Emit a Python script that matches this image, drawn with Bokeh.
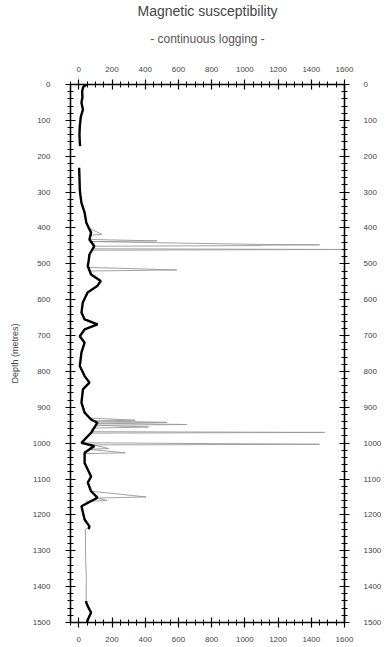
import math
from bokeh.plotting import figure
from bokeh.models import Range1d, LinearAxis, Title, SingleIntervalTicker
from bokeh.embed import file_html
from bokeh.resources import INLINE

NaN = float("nan")

# smoothed log (thick black)
smooth_depth = [0, 5, 9, 20, 35, 51, 70, 90, 116, 140, 162, 172, NaN,
                232, 260, 293, 310, 330, 357, 385, 400, 413, 432, 451, 474,
                490, 506, 530, 548, 562, 580, 608, 636, 655, 669, 683, 702,
                720, 747, 785, 813, 831, 850, 887, 915, 934, 943, 971, 999,
                1008, 1027, 1055, 1093, 1110, 1134, 1152, 1176, 1213, 1232,
                1240, NaN, 1440, 1445, 1460, 1472, 1492, 1500]
smooth_value = [50, 30, 25, 20, 22, 16, 25, 12, 6, 4, 6, 8, NaN,
                2, 4, 6, 10, 16, 35, 45, 60, 74, 64, 93, 64,
                60, 54, 74, 132, 111, 53, 24, 16, 35, 113, 35, 6,
                35, 16, 6, 35, 64, 25, 16, 35, 74, 112, 74, 16,
                93, 35, 35, 74, 54, 74, 112, 16, 35, 64,
                60, NaN, 45, 45, 60, 74, 54, 50]

# raw log with spikes (thin grey)
raw_depth = [400, 418, 420, 432, 436, 438, 446, 447, 448, 449, 451, 453,
             458, 460, 462, 474, NaN,
             510, 517, 520, 530, NaN,
             930, 936, 938, 942, 944, 948, 950, 955, 958, 968, 970, 972,
             999, 1003, 1005, 1015, 1017, 1027, 1029, NaN,
             1134, 1150, 1153, 1160, 1162, NaN,
             1232, 1240, 1300, 1380, 1440]
raw_value = [60, 140, 70, 64, 470, 80, 1100, 1450, 1100, 1100, 90, 93,
             90, 1580, 80, 64, NaN,
             60, 590, 70, 74, NaN,
             70, 340, 90, 530, 100, 650, 110, 420, 80, 74, 1480, 80,
             16, 1450, 90, 180, 60, 280, 35, NaN,
             74, 405, 110, 170, 40, NaN,
             64, 40, 40, 45, 45]

title_text = "Magnetic susceptibility"
subtitle_text = "- continuous logging -"
y_label = "Depth (metres)"

p = figure(width=384, height=646, output_backend="svg", toolbar_location=None,
           x_range=Range1d(-50, 1600), y_range=Range1d(1500, 0),
           x_axis_location=None, y_axis_location=None,
           min_border_left=70, min_border_right=31, min_border_top=84,
           min_border_bottom=24)
p.grid.visible = False
p.outline_line_color = "black"
p.outline_line_width = 1.2
p.background_fill_color = "white"
p.border_fill_color = "white"

def style(ax, x=True, standoff=8):
    ax.ticker = SingleIntervalTicker(interval=200 if x else 100,
                                     num_minor_ticks=4 if x else 5)
    ax.major_label_text_font = "Arial"
    ax.major_label_text_font_size = "8px"
    ax.major_label_text_color = "#444"
    ax.axis_line_color = "black"
    ax.axis_line_width = 1.4
    ax.major_tick_in = 5
    ax.major_tick_out = 5
    ax.minor_tick_in = 3
    ax.minor_tick_out = 3
    ax.major_tick_line_color = "black"
    ax.minor_tick_line_color = "black"
    ax.major_tick_line_width = 1.2
    ax.minor_tick_line_width = 1.0
    ax.major_label_standoff = standoff
    return ax

bottom = style(LinearAxis(), True, 9)
top = style(LinearAxis(), True, 8)
left = style(LinearAxis(), False, 15)
right = style(LinearAxis(), False, 14)
left.axis_label = y_label
left.axis_label_text_font = "Arial"
left.axis_label_text_font_size = "9px"
left.axis_label_text_font_style = "normal"
left.axis_label_text_color = "#444"
left.axis_label_standoff = 10

p.add_layout(bottom, "below")
p.add_layout(left, "left")
p.add_layout(right, "right")
p.add_layout(top, "above")
p.add_layout(Title(text=subtitle_text, align="center", text_font="Arial",
                   text_font_size="12px", text_font_style="normal",
                   text_color="#555", standoff=36), "above")
p.add_layout(Title(text=title_text, align="center", text_font="Arial",
                   text_font_size="14px", text_font_style="normal",
                   text_color="#444", standoff=-15), "above")

p.line(raw_value, raw_depth, line_color="#999999", line_width=0.9)
p.line(smooth_value, smooth_depth, line_color="black", line_width=2.4)

open("out.html", "w").write(file_html(p, INLINE))
